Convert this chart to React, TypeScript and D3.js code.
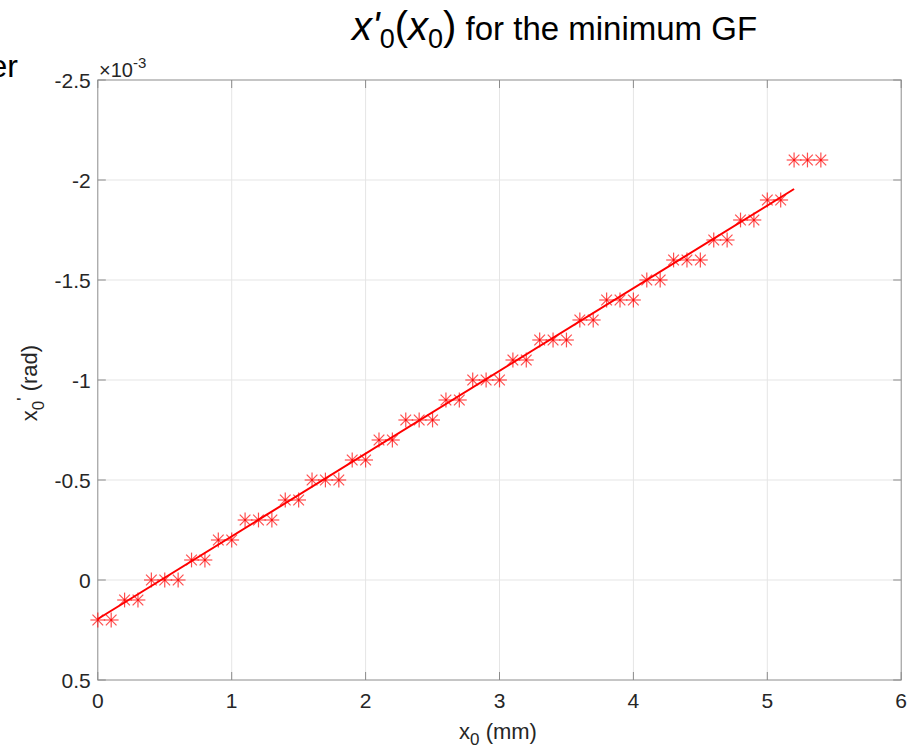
import React from "react";
import * as d3 from "d3";

// Measured slope x0' against start position x0
const xValues = [
  0, 0.1, 0.2, 0.3, 0.4, 0.5, 0.6, 0.7, 0.8, 0.9,
  1.0, 1.1, 1.2, 1.3, 1.4, 1.5, 1.6, 1.7, 1.8, 1.9,
  2.0, 2.1, 2.2, 2.3, 2.4, 2.5, 2.6, 2.7, 2.8, 2.9,
  3.0, 3.1, 3.2, 3.3, 3.4, 3.5, 3.6, 3.7, 3.8, 3.9,
  4.0, 4.1, 4.2, 4.3, 4.4, 4.5, 4.6, 4.7, 4.8, 4.9,
  5.0, 5.1, 5.2, 5.3, 5.4,
];
// values in units of 1e-3 rad
const yValues = [
  0.2, 0.2, 0.1, 0.1, 0, 0, 0, -0.1, -0.1, -0.2,
  -0.2, -0.3, -0.3, -0.3, -0.4, -0.4, -0.5, -0.5, -0.5, -0.6,
  -0.6, -0.7, -0.7, -0.8, -0.8, -0.8, -0.9, -0.9, -1.0, -1.0,
  -1.0, -1.1, -1.1, -1.2, -1.2, -1.2, -1.3, -1.3, -1.4, -1.4,
  -1.4, -1.5, -1.5, -1.6, -1.6, -1.6, -1.7, -1.7, -1.8, -1.8,
  -1.9, -1.9, -2.1, -2.1, -2.1,
];

// Linear fit drawn over its range
const fitX = [0, 5.2];
const fitY = [0.195, -1.955];

const xTicks = [0, 1, 2, 3, 4, 5, 6];
const yTicks = [-2.5, -2, -1.5, -1, -0.5, 0, 0.5];

const W = 918;
const H = 750;
const left = 97.8;
const right = 901.2;
const top = 80;
const bottom = 680;

export default function App() {
  const x = d3.scaleLinear().domain([0, 6]).range([left, right]);
  const y = d3.scaleLinear().domain([-2.5, 0.5]).range([top, bottom]);

  const fitLine = d3
    .line<number>()
    .x((_, i) => x(fitX[i]))
    .y((d) => y(d))(fitY);

  const font = "'Liberation Sans', Arial, Helvetica, sans-serif";
  const axisColor = "#262626";
  const boxColor = "#8c8c8c";
  const gridColor = "#e5e5e5";
  const r = 7.4;
  const rd = r * 0.72;

  return (
    <svg
      width={W}
      height={H}
      style={{ position: "absolute", left: 0, top: 0, background: "#fff" }}
      fontFamily={font}
    >
      {/* tail of the neighbouring panel's title, running in from the left */}
      <text x={18} y={77} fontSize={32} textAnchor="end" fill="#000">
        er
      </text>

      {/* grid */}
      {xTicks.slice(1, -1).map((t) => (
        <line key={`gx${t}`} x1={x(t)} x2={x(t)} y1={top} y2={bottom} stroke={gridColor} strokeWidth={1} />
      ))}
      {yTicks.slice(1, -1).map((t) => (
        <line key={`gy${t}`} x1={left} x2={right} y1={y(t)} y2={y(t)} stroke={gridColor} strokeWidth={1} />
      ))}

      {/* box */}
      <rect x={left} y={top} width={right - left} height={bottom - top} fill="none" stroke={boxColor} strokeWidth={1} />

      {/* ticks */}
      {xTicks.map((t) => (
        <g key={`tx${t}`}>
          <line x1={x(t)} x2={x(t)} y1={bottom} y2={bottom - 8} stroke={boxColor} />
          <line x1={x(t)} x2={x(t)} y1={top} y2={top + 8} stroke={boxColor} />
          <text x={x(t)} y={bottom + 28} fontSize={21} textAnchor="middle" fill={axisColor}>
            {t}
          </text>
        </g>
      ))}
      {yTicks.map((t) => (
        <g key={`ty${t}`}>
          <line x1={left} x2={left + 8} y1={y(t)} y2={y(t)} stroke={boxColor} />
          <line x1={right} x2={right - 8} y1={y(t)} y2={y(t)} stroke={boxColor} />
          <text x={left - 7} y={y(t) + 7.5} fontSize={21} textAnchor="end" fill={axisColor}>
            {String(t)}
          </text>
        </g>
      ))}

      {/* exponent */}
      <text x={99} y={77} fontSize={20} fill={axisColor}>
        ×10
        <tspan dy={-9} fontSize={15}>-3</tspan>
      </text>

      {/* fit line */}
      <path d={fitLine ?? ""} fill="none" stroke="#ff0000" strokeWidth={2} />

      {/* asterisk markers */}
      <g stroke="#ff0000" strokeWidth={1.2} strokeOpacity={0.7}>
        {xValues.map((xv, i) => {
          const cx = x(xv);
          const cy = y(yValues[i]);
          return (
            <g key={`m${i}`}>
              <line x1={cx - r} x2={cx + r} y1={cy} y2={cy} />
              <line x1={cx} x2={cx} y1={cy - r} y2={cy + r} />
              <line x1={cx - rd} x2={cx + rd} y1={cy - rd} y2={cy + rd} />
              <line x1={cx - rd} x2={cx + rd} y1={cy + rd} y2={cy - rd} />
            </g>
          );
        })}
      </g>

      {/* title */}
      <text x={352} y={40} textAnchor="start" fill="#000">
        <tspan fontSize={40} fontStyle="italic">x'</tspan>
        <tspan fontSize={27} dy={8}>0</tspan>
        <tspan fontSize={40} dy={-8}>(</tspan>
        <tspan fontSize={40} fontStyle="italic">x</tspan>
        <tspan fontSize={27} dy={8}>0</tspan>
        <tspan fontSize={40} dy={-8}>)</tspan>
        <tspan fontSize={33}> for the minimum GF</tspan>
      </text>

      {/* x label */}
      <text x={498} y={739} textAnchor="middle" fontSize={22} fill={axisColor}>
        x<tspan fontSize={17} dy={6}>0</tspan>
        <tspan dy={-6}> (mm)</tspan>
      </text>

      {/* y label */}
      <text
        transform={`translate(37,383) rotate(-90)`}
        textAnchor="middle"
        fontSize={22}
        fill={axisColor}
      >
        x<tspan fontSize={17} dy={7}>0</tspan>
        <tspan dy={-15} fontSize={17}>'</tspan>
        <tspan dy={8}> (rad)</tspan>
      </text>
    </svg>
  );
}
